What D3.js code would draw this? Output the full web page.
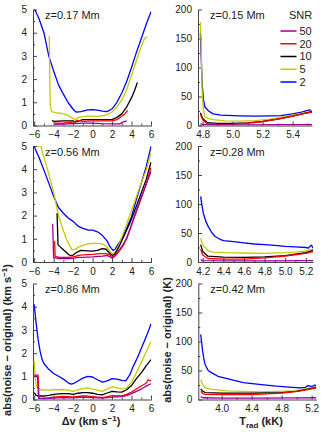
<!DOCTYPE html>
<html>
<head>
<meta charset="utf-8">
<script src="https://cdn.jsdelivr.net/npm/d3@7"></script>
<style>
  body { margin: 0; background: #fff; }
  svg { font-family: "Liberation Sans", Arial, sans-serif; }
  .ejes text { font-size: 10px; fill: #222; }
  .ejes path, .ejes line { stroke: #444; }
  .titulo { font-size: 11px; fill: #222; }
  .etiqueta { font-size: 11px; font-weight: bold; fill: #222; }
</style>
</head>
<body>
<div id="graf"></div>
<script>
// Datos: niveles de SNR y series por panel (orden = snr)
const snr = [50, 20, 10, 5, 2]
const alturas = ["z=0.17 Mm", "z=0.56 Mm", "z=0.86 Mm", "z=0.15 Mm", "z=0.28 Mm", "z=0.42 Mm"]

const ticksDv = [-6, -4, -2, 0, 2, 4, 6]
const ticksErrV = [0, 1, 2, 3, 4, 5]
const ticksErrT = [0, 50, 100, 150, 200]
const ticksT015 = [4.8, 5.0, 5.2, 5.4]
const ticksT028 = [4.2, 4.4, 4.6, 4.8, 5.0, 5.2]
const ticksT042 = [4.0, 4.4, 4.8, 5.2]

// z=0.17 Mm, velocidad
const dv017 = [
  [[-3.9,0.05],[-3,0.06],[-2,0.08],[-1,0.1],[0,0.1],[1,0.08],[2,0.07],[2.8,0.07],[3.1,0.15],[3.5,0.2]],
  [[-3.9,0.1],[-3,0.1],[-2,0.15],[-1.5,0.22],[-1,0.18],[0,0.2],[1,0.2],[2,0.2],[2.5,0.25],[3,0.4],[3.3,0.5],[3.6,0.65]],
  [[-4.15,0.22],[-4,0.18],[-3,0.2],[-2,0.2],[-1.8,0.15],[-1,0.25],[0,0.25],[1,0.25],[2,0.25],[2.5,0.35],[3,0.5],[3.5,0.8],[4,1.2],[4.3,1.5],[4.6,1.85]],
  [[-4.45,3.85],[-4.35,0.85],[-4.2,0.6],[-3.8,0.55],[-3.2,0.52],[-2.6,0.45],[-2.2,0.35],[-1.8,0.25],[-1.4,0.35],[-1,0.38],[-0.5,0.4],[0,0.4],[0.5,0.39],[1,0.42],[1.5,0.47],[2,0.58],[2.5,0.8],[3,1.1],[3.5,1.55],[4,2.15],[4.5,2.8],[5,3.4],[5.3,3.72],[5.6,3.82]],
  [[-6,5.05],[-5.5,4.6],[-5,4.0],[-4.5,3.0],[-4,2.35],[-3.5,1.75],[-3,1.35],[-2.5,0.98],[-2,0.7],[-1.7,0.58],[-1.2,0.6],[-0.5,0.67],[0,0.68],[0.5,0.66],[1,0.62],[1.5,0.6],[2,0.72],[2.5,1.0],[3,1.4],[3.5,1.9],[4,2.5],[4.5,3.15],[5,3.75],[5.5,4.35],[6,4.9]]
]

// z=0.56 Mm, velocidad
const dv056 = [
  [[-4.1,1.65],[-4.0,0.2],[-3.5,0.15],[-3,0.15],[-2.5,0.15],[-2,0.16],[-1.5,0.2],[-1,0.2],[0,0.22],[1,0.25],[1.5,0.28],[1.8,0.22],[2,0.17],[2.3,0.25],[2.8,0.55],[3.5,1.0],[4,1.6],[4.53,2.26],[5,2.8],[5.56,3.4],[6,3.9]],
  [[-3.9,0.9],[-3.85,0.25],[-3.5,0.2],[-3,0.2],[-2.5,0.2],[-2,0.22],[-1.3,0.3],[-0.5,0.32],[0,0.33],[0.77,0.36],[1.4,0.36],[1.8,0.3],[2.1,0.22],[2.4,0.3],[2.8,0.5],[3.2,0.75],[3.7,1.25],[4.2,1.83],[4.7,2.4],[5.2,2.98],[5.6,3.5],[6,4.05]],
  [[-3.65,2.1],[-3.55,0.75],[-3.2,0.6],[-2.8,0.45],[-2.4,0.3],[-2.1,0.27],[-1.7,0.4],[-1.2,0.5],[-0.5,0.48],[0,0.47],[0.5,0.5],[1,0.58],[1.4,0.55],[1.7,0.4],[2,0.27],[2.3,0.35],[2.7,0.65],[3.2,1.1],[3.85,1.7],[4.4,2.3],[4.87,2.83],[5.5,3.55],[6,4.3]],
  [[-5.75,5],[-5.3,5],[-5.2,4.8],[-4.7,4.1],[-4,3.0],[-3.5,2.0],[-3,1.35],[-2.6,0.9],[-2.1,0.52],[-1.8,0.55],[-1.4,0.65],[-1,0.72],[-0.5,0.78],[0,0.8],[0.5,0.8],[1,0.78],[1.45,0.68],[1.8,0.45],[2.1,0.32],[2.4,0.45],[2.8,0.85],[3.3,1.4],[3.85,2.05],[4.4,2.7],[4.87,3.26],[5.5,3.95],[6,4.7]],
  [[-6,4.98],[-5.5,4.5],[-5,3.97],[-4.5,3.4],[-4,2.83],[-3.5,2.35],[-3,2.1],[-2.5,1.9],[-2,1.75],[-1.5,1.55],[-1,1.45],[-0.5,1.38],[0,1.37],[0.5,1.3],[1,1.15],[1.5,0.9],[1.8,0.65],[2.1,0.5],[2.3,0.55],[2.6,0.75],[3,1.0],[3.5,1.45],[4,1.95],[4.5,2.7],[5,3.4],[5.5,4.1],[6,4.98]]
]

// z=0.86 Mm, velocidad
const dv086 = [
  [[-6,1.0],[-5.65,1.0],[-5.55,0.05],[-5,0.04],[-4,0.06],[-3,0.08],[-2,0.07],[-1,0.1],[0,0.08],[1,0.06],[2,0.1],[3,0.12],[3.5,0.17],[4,0.25],[4.5,0.35],[5,0.45],[5.5,0.58],[6,0.68]],
  [[-6,1.05],[-5.6,1.05],[-5.5,0.05],[-5,0.06],[-4.5,0.07],[-4,0.1],[-3.5,0.12],[-3,0.13],[-2.5,0.12],[-2,0.1],[-1.5,0.13],[-1,0.16],[-0.5,0.15],[0,0.12],[0.5,0.1],[1,0.08],[1.5,0.12],[2,0.17],[2.5,0.15],[3,0.16],[3.5,0.22],[4,0.32],[4.5,0.45],[5,0.58],[5.5,0.7],[5.7,0.85],[6,0.8]],
  [[-6,0.3],[-5.8,0.18],[-5.5,0.15],[-5,0.15],[-4.5,0.18],[-4,0.22],[-3.5,0.24],[-3,0.25],[-2.5,0.25],[-2,0.22],[-1.5,0.27],[-1,0.3],[-0.5,0.3],[0,0.27],[0.5,0.22],[1,0.2],[1.5,0.28],[2,0.35],[2.5,0.33],[3,0.32],[3.5,0.42],[4,0.6],[4.5,0.9],[5,1.15],[5.5,1.45],[6,1.72]],
  [[-6,1.65],[-5.85,0.75],[-5.7,0.5],[-5.3,0.42],[-4.5,0.4],[-4,0.42],[-3.5,0.42],[-3,0.43],[-2.5,0.4],[-2,0.35],[-1.5,0.42],[-1,0.47],[-0.5,0.5],[0,0.45],[0.5,0.4],[1,0.35],[1.5,0.45],[2,0.55],[2.5,0.5],[3,0.45],[3.5,0.5],[4,0.75],[4.5,1.15],[5,1.6],[5.5,2.05],[6,2.5]],
  [[-6,4.1],[-5.8,3.3],[-5.6,2.6],[-5.4,2.1],[-5.2,1.75],[-5,1.55],[-4.5,1.3],[-4,1.12],[-3.5,1.0],[-3,0.88],[-2.5,0.72],[-2.2,0.66],[-2,0.68],[-1.5,0.8],[-1,0.92],[-0.5,1.0],[0,0.97],[0.5,0.85],[1,0.75],[1.5,0.8],[2,0.9],[2.5,0.88],[3,0.82],[3.4,0.8],[3.8,1.05],[4.2,1.45],[4.6,1.8],[5,2.2],[5.5,2.7],[6,3.25]]
]

// z=0.15 Mm, temperatura
const tr015 = [
  [[4.785,3],[4.8,1.8],[4.9,1.2],[5.1,1.2],[5.3,1.4],[5.529,1.6]],
  [[4.785,20],[4.8,10],[4.83,3],[4.9,2],[5.0,2.5],[5.1,4],[5.2,6.5],[5.3,11],[5.4,16],[5.48,21],[5.529,23]],
  [[4.785,22],[4.8,12],[4.83,5],[4.9,3.5],[5.0,3.5],[5.1,4.5],[5.2,7],[5.3,11],[5.4,16],[5.48,21],[5.529,24]],
  [[4.785,178],[4.79,140],[4.797,55],[4.805,28],[4.815,15],[4.84,12],[4.87,10],[4.95,8],[5.05,7.5],[5.15,8.5],[5.25,11],[5.32,14],[5.4,18],[5.48,22],[5.529,25]],
  [[4.785,160],[4.79,120],[4.797,72],[4.805,45],[4.815,32],[4.84,25],[4.87,20],[4.92,18],[4.96,17.4],[5.05,16.5],[5.15,16],[5.25,16.5],[5.32,17],[5.4,20],[5.46,23],[5.5,26],[5.515,27],[5.529,24]]
]

// z=0.28 Mm, temperatura
const tr028 = [
  [[4.18,4],[4.2,2.5],[4.5,2],[4.8,2],[5.27,2.5]],
  [[4.18,22],[4.2,12],[4.25,6],[4.4,5],[4.6,5],[4.8,7],[5.0,10],[5.2,15],[5.27,18]],
  [[4.18,30],[4.2,18],[4.25,10],[4.4,8.5],[4.6,8],[4.8,9],[5.0,11],[5.2,16],[5.27,20]],
  [[4.18,41],[4.19,35],[4.21,27],[4.23,24],[4.254,19],[4.3,17],[4.43,16],[4.6,15.5],[4.8,15],[5.0,16],[5.1,17],[5.2,19],[5.27,22]],
  [[4.18,113],[4.19,100],[4.206,84],[4.23,70],[4.254,61],[4.29,50],[4.32,44],[4.36,40],[4.4,37],[4.5,35],[4.6,33],[4.7,31],[4.8,30],[4.9,28.5],[5.0,27],[5.1,26],[5.2,25],[5.225,24],[5.24,27],[5.255,29],[5.27,24]]
]

// z=0.42 Mm, temperatura
const tr042 = [
  [[3.72,5],[3.75,3],[4.0,2.5],[4.5,2.5],[5.0,2.8],[5.26,3]],
  [[3.72,14],[3.75,10],[3.78,9],[4.0,8.5],[4.4,8.5],[4.8,11],[5.0,14],[5.15,17],[5.26,20]],
  [[3.72,18],[3.75,14],[3.78,12],[4.0,11],[4.4,11],[4.8,12],[5.0,14],[5.15,18],[5.26,21]],
  [[3.72,34],[3.74,28],[3.78,20],[3.85,18],[4.07,15],[4.3,14],[4.51,13],[4.75,14],[4.96,15],[5.1,18],[5.2,20],[5.26,22]],
  [[3.72,112],[3.735,95],[3.747,82],[3.765,68],[3.78,60],[3.82,50],[3.88,45],[3.95,40],[4.1,35],[4.29,29],[4.5,26],[4.73,23],[4.9,21.5],[5.04,20],[5.12,21],[5.15,24],[5.2,22],[5.24,25],[5.26,24]]
]

// Estilo y layout
const colores = { 50: "#990099", 20: "#ff0000", 10: "#000000", 5: "#c8c800", 2: "#0000ff" }
const filas = [
  { top: 9.5, bottom: 125.5 },
  { top: 146, bottom: 262 },
  { top: 283.5, bottom: 399.5 },
]

const paneles = [
  { datos: dv017, titulo: alturas[0], fila: 0, rx: [33, 151.5], dom: [-6.12, 6.05], xt: ticksDv, xm: [-5, -3, -1, 1, 3, 5], fmt: d3.format("d"), tipo: "v" },
  { datos: dv056, titulo: alturas[1], fila: 1, rx: [33, 151.5], dom: [-6.12, 6.05], xt: ticksDv, xm: [-5, -3, -1, 1, 3, 5], fmt: d3.format("d"), tipo: "v" },
  { datos: dv086, titulo: alturas[2], fila: 2, rx: [33, 151.5], dom: [-6.12, 6.05], xt: ticksDv, xm: [-5, -3, -1, 1, 3, 5], fmt: d3.format("d"), tipo: "v" },
  { datos: tr015, titulo: alturas[3], fila: 0, rx: [198, 312], dom: [4.769, 5.529], xt: ticksT015, xm: [4.9, 5.1, 5.3, 5.5], fmt: d3.format(".1f"), tipo: "t", leyenda: true },
  { datos: tr028, titulo: alturas[4], fila: 1, rx: [198, 313], dom: [4.154, 5.27], xt: ticksT028, xm: [4.3, 4.5, 4.7, 4.9, 5.1], fmt: d3.format(".1f"), tipo: "t" },
  { datos: tr042, titulo: alturas[5], fila: 2, rx: [198.3, 316.5], dom: [3.688, 5.265], xt: ticksT042, xm: [3.8, 4.2, 4.6, 5.0], fmt: d3.format(".1f"), tipo: "t" },
]

const svg = d3.select("#graf").append("svg").attr("width", 323).attr("height", 435)

paneles.forEach((p, i) => {
  const f = filas[p.fila]
  const x = d3.scaleLinear().domain(p.dom).range(p.rx)
  const y = d3.scaleLinear()
    .domain(p.tipo === "v" ? [0, 5] : [0, 200])
    .range([f.bottom, f.top])

  const g = svg.append("g")

  svg.append("clipPath").attr("id", `clip${i}`)
    .append("rect")
    .attr("x", p.rx[0]).attr("y", f.top)
    .attr("width", p.rx[1] - p.rx[0]).attr("height", f.bottom - f.top)

  // Ejes
  const yt = p.tipo === "v" ? ticksErrV : ticksErrT
  const ym = p.tipo === "v" ? [0.5, 1.5, 2.5, 3.5, 4.5] : [25, 75, 125, 175]

  g.append("g").attr("class", "ejes")
    .attr("transform", `translate(0, ${f.bottom})`)
    .call(d3.axisBottom(x).tickValues(p.xt).tickFormat(p.fmt).tickSizeInner(-4).tickSizeOuter(0).tickPadding(5.5))
  g.append("g").attr("class", "ejes")
    .attr("transform", `translate(0, ${f.bottom})`)
    .call(d3.axisBottom(x).tickValues(p.xm).tickFormat("").tickSizeInner(-2).tickSizeOuter(0))
    .select(".domain").remove()

  g.append("g").attr("class", "ejes")
    .attr("transform", `translate(${p.rx[0]}, 0)`)
    .call(d3.axisLeft(y).tickValues(yt).tickFormat(d3.format("d")).tickSizeInner(-4).tickSizeOuter(0).tickPadding(6))
  g.append("g").attr("class", "ejes")
    .attr("transform", `translate(${p.rx[0]}, 0)`)
    .call(d3.axisLeft(y).tickValues(ym).tickFormat("").tickSizeInner(-2).tickSizeOuter(0))
    .select(".domain").remove()

  // Curvas (SNR 2 primero, 50 encima)
  const linea = d3.line().x((d) => x(d[0])).y((d) => y(d[1]))
  const orden = d3.range(snr.length).reverse()
  g.append("g")
    .attr("clip-path", `url(#clip${i})`)
    .selectAll("path")
    .data(orden)
    .join("path")
    .attr("d", (k) => linea(p.datos[k]))
    .attr("fill", "none")
    .attr("stroke", (k) => colores[snr[k]])
    .attr("stroke-width", 1.3)
    .attr("stroke-linejoin", "round")

  g.append("text").attr("class", "titulo")
    .attr("x", p.rx[0] + 12).attr("y", f.top + 9.5)
    .text(p.titulo)

  if (p.leyenda) {
    const ley = g.append("g")
    ley.append("text").attr("class", "titulo")
      .attr("x", 289).attr("y", f.top + 9.5).text("SNR")
    const items = ley.selectAll("g.item").data(snr).join("g").attr("class", "item")
      .attr("transform", (d, j) => `translate(0, ${f.top + 21.5 + j * 12.75})`)
    items.append("line")
      .attr("x1", 280.5).attr("x2", 296.5)
      .attr("stroke", (d) => colores[d]).attr("stroke-width", 1.5)
    items.append("text").attr("class", "titulo")
      .attr("x", 299.5).attr("dy", "0.35em").text((d) => d)
  }
})

// Etiquetas de ejes
const lblY1 = svg.append("text").attr("class", "etiqueta")
  .attr("text-anchor", "middle")
  .attr("transform", "translate(11, 340) rotate(-90)")
lblY1.append("tspan").text("abs(noise \u2212 original) (km s")
lblY1.append("tspan").attr("dy", -4).attr("font-size", "8px").text("\u22121")
lblY1.append("tspan").attr("dy", 4).text(")")

svg.append("text").attr("class", "etiqueta")
  .attr("text-anchor", "middle")
  .attr("transform", "translate(171, 340) rotate(-90)")
  .text("abs(noise \u2212 original) (K)")

const lblX1 = svg.append("text").attr("class", "etiqueta")
  .attr("text-anchor", "middle").attr("x", 91).attr("y", 425)
lblX1.append("tspan").text("\u0394v (km s")
lblX1.append("tspan").attr("dy", -4).attr("font-size", "8px").text("\u22121")
lblX1.append("tspan").attr("dy", 4).text(")")

const lblX2 = svg.append("text").attr("class", "etiqueta")
  .attr("text-anchor", "middle").attr("x", 261).attr("y", 425)
lblX2.append("tspan").text("T")
lblX2.append("tspan").attr("dy", 3).attr("font-size", "8px").text("rad")
lblX2.append("tspan").attr("dy", -3).text(" (kK)")
</script>
</body>
</html>
